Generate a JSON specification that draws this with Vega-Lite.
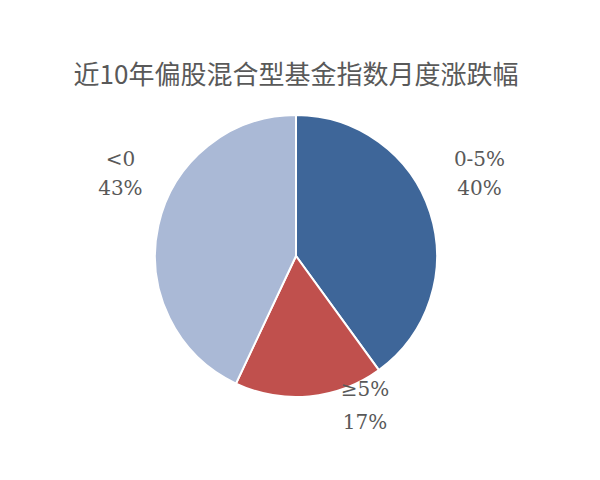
{
  "$schema": "https://vega.github.io/schema/vega-lite/v6.json",
  "width": 592,
  "height": 282,
  "autosize": "none",
  "padding": {"top": 115, "left": 0, "right": 8, "bottom": 83},
  "background": "white",
  "config": {"view": {"stroke": null}},
  "title": {
    "text": "近10年偏股混合型基金指数月度涨跌幅",
    "font": "Noto Sans CJK SC",
    "fontSize": 26,
    "fontWeight": "normal",
    "color": "#595959",
    "anchor": "middle",
    "offset": 22
  },
  "data": {"values": [
    {"category": "0-5%", "pct": 40, "rank": 1},
    {"category": "≥5%", "pct": 17, "rank": 2},
    {"category": "<0", "pct": 43, "rank": 3}
  ]},
  "transform": [
    {"calculate": "[datum.category, datum.pct + '%']", "as": "lbl"}
  ],
  "encoding": {
    "theta": {"field": "pct", "type": "quantitative", "stack": true},
    "order": {"field": "rank", "type": "quantitative"}
  },
  "layer": [
    {
      "mark": {"type": "arc", "outerRadius": 141, "stroke": "white", "strokeWidth": 2},
      "encoding": {
        "color": {
          "field": "category",
          "type": "nominal",
          "scale": {"domain": ["0-5%", "≥5%", "<0"], "range": ["#3e6699", "#c0504d", "#aab9d6"]},
          "legend": null
        }
      }
    },
    {
      "mark": {"type": "text", "radius": 207, "thetaOffset": -0.167, "font": "DejaVu Serif", "fontSize": 20, "color": "#595959", "lineHeight": 29},
      "encoding": {
        "text": {"condition": {"test": "datum.category == '0-5%'", "field": "lbl"}, "value": ""}
      }
    },
    {
      "mark": {"type": "text", "radius": 151, "thetaOffset": -0.38, "font": "DejaVu Serif", "fontSize": 20, "color": "#595959", "lineHeight": 33},
      "encoding": {
        "text": {"condition": {"test": "datum.category == '≥5%'", "field": "lbl"}, "value": ""}
      }
    },
    {
      "mark": {"type": "text", "radius": 200, "thetaOffset": 0.279, "font": "DejaVu Serif", "fontSize": 20, "color": "#595959", "lineHeight": 29},
      "encoding": {
        "text": {"condition": {"test": "datum.category == '<0'", "field": "lbl"}, "value": ""}
      }
    }
  ]
}
